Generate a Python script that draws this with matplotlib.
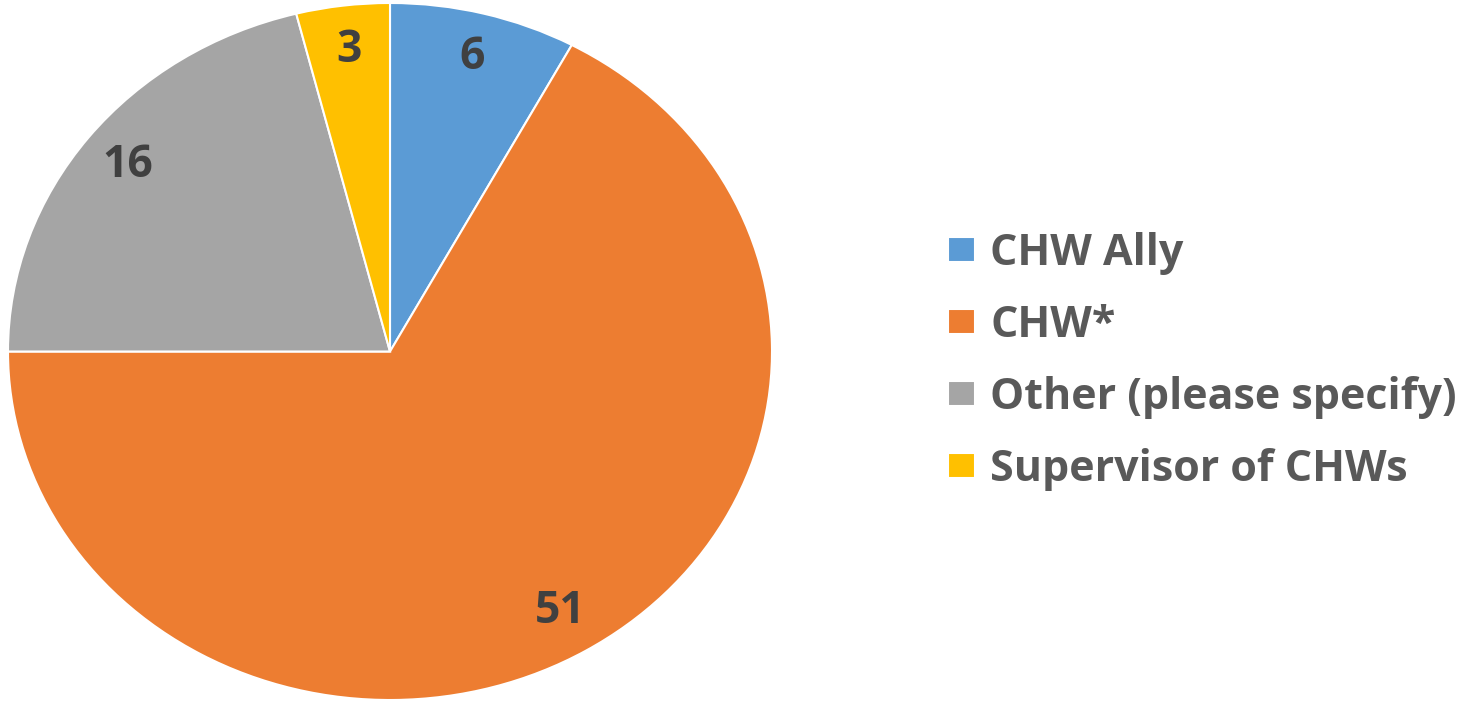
import matplotlib
matplotlib.use("Agg")
import matplotlib.pyplot as plt

categories = ["CHW Ally", "CHW*", "Other (please specify)", "Supervisor of CHWs"]
counts = [6, 51, 16, 3]
colors = ["#5B9BD5", "#ED7D31", "#A5A5A5", "#FFC000"]

plt.rcParams["font.family"] = ["Open Sans", "DejaVu Sans"]

fig = plt.figure(figsize=(14.68, 7.02), dpi=100)
ax = fig.add_axes([8 / 1468, 2 / 702, 764 / 1468, 697 / 702])

total = sum(counts)
wedges, _, autotexts = ax.pie(
    counts,
    colors=colors,
    startangle=90,
    counterclock=False,
    autopct=lambda p: f"{round(p * total / 100)}",
    pctdistance=0.87,
    wedgeprops=dict(edgecolor="white", linewidth=1.5),
    textprops=dict(fontsize=32, fontweight="bold", color="#404040"),
)
ax.set_aspect("auto")
ax.set_xlim(-1, 1)
ax.set_ylim(-1, 1)

fig.legend(
    wedges,
    categories,
    loc="upper left",
    bbox_to_anchor=(948 / 1468, 1 - 232 / 702),
    frameon=False,
    prop=dict(family=["Open Sans", "DejaVu Sans"], size=31, weight="bold"),
    labelcolor="#595959",
    handlelength=0.63,
    handleheight=0.51,
    handletextpad=0.35,
    labelspacing=0.67,
    borderaxespad=0,
    borderpad=0,
)

fig.savefig("out.png", dpi=100, facecolor="white")
